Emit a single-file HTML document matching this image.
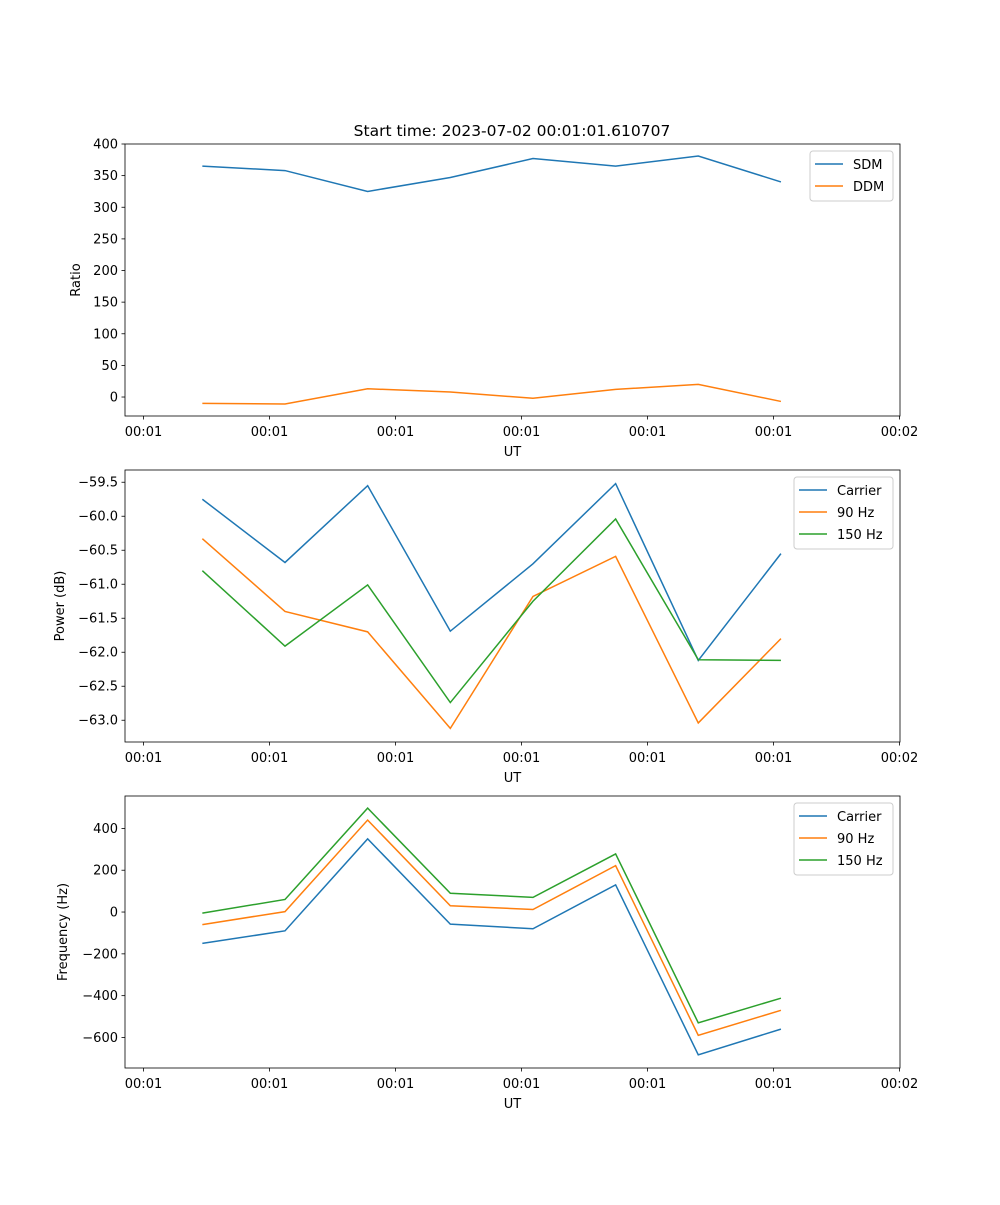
<!DOCTYPE html>
<html><head><meta charset="utf-8">
<style>
body{margin:0;background:#fff;font-family:"Liberation Sans","DejaVu Sans",sans-serif;}
svg text{font-family:"DejaVu Sans","Liberation Sans",sans-serif;font-size:13px;fill:#000;}
</style></head>
<body>
<svg id="fig" width="1000" height="1200" xmlns="http://www.w3.org/2000/svg">
<text x="512" y="136" text-anchor="middle" style="font-size:15.5px">Start time: 2023-07-02 00:01:01.610707</text>
</svg>
<script>
const xTickLabels=["00:01","00:01","00:01","00:01","00:01","00:01","00:02"];
const xTimes=[0.467,1.123,1.779,2.435,3.091,3.747,4.403,5.059];
const sdm=[365,358,325,347,377,365,381,340];
const ddm=[-10,-11,13,8,-2,12,20,-7];
const pCarrier=[-59.75,-60.68,-59.55,-61.69,-60.70,-59.52,-62.12,-60.55];
const p90=[-60.33,-61.40,-61.70,-63.12,-61.18,-60.59,-63.04,-61.80];
const p150=[-60.80,-61.91,-61.01,-62.74,-61.25,-60.04,-62.11,-62.12];
const fCarrier=[-150,-90,350,-58,-80,130,-683,-560];
const f90=[-60,2,440,30,12,222,-590,-470];
const f150=[-5,60,497,90,70,278,-530,-412];
const ratioTicks=[0,50,100,150,200,250,300,350,400];
const powerTicks=[-63.0,-62.5,-62.0,-61.5,-61.0,-60.5,-60.0,-59.5];
const freqTicks=[-600,-400,-200,0,200,400];

const NS="http://www.w3.org/2000/svg";
const svg=document.getElementById('fig');
const L=125,R=900;
const xmin=(L-143.5)/126, xmax=(R-143.5)/126;
function xs(v){return L+(v-xmin)/(xmax-xmin)*(R-L);}
function mk(tag,attrs,parent){const e=document.createElementNS(NS,tag);for(const k in attrs)e.setAttribute(k,attrs[k]);(parent||svg).appendChild(e);return e;}
const C=["#1f77b4","#ff7f0e","#2ca02c"];

function panel(name,top,bot,ymin,ymax,ticks,fmt,ylabel,series,names,leg){
  const g=mk('g',{});
  
  
  const ys=v=>bot-(v-ymin)/(ymax-ymin)*(bot-top);
  series.forEach((s,i)=>{
    const p=mk('polyline',{points:s.map((v,j)=>xs(xTimes[j])+','+ys(v)).join(' '),fill:'none',stroke:C[i],'stroke-width':1.5},g);
    
    
  });
  const fr=mk('rect',{x:L,y:top,width:R-L,height:bot-top,fill:'none',stroke:'#000','stroke-width':0.8},g);
  
  
  ticks.forEach(t=>{
    const y=ys(t);
    mk('line',{x1:L-3.5,x2:L,y1:y,y2:y,stroke:'#000','stroke-width':0.8},g);
    const tx=mk('text',{x:L-7,y:y+4.5,'text-anchor':'end'},g);tx.textContent=fmt(t);
    
    
  });
  xTickLabels.forEach((lab,i)=>{
    const x=xs(i);
    mk('line',{x1:x,x2:x,y1:bot,y2:bot+3.5,stroke:'#000','stroke-width':0.8},g);
    const tx=mk('text',{x:x,y:bot+20,'text-anchor':'middle'},g);tx.textContent=lab;
    
    
  });
  const xl=mk('text',{x:(L+R)/2,y:bot+40,'text-anchor':'middle'},g);xl.textContent='UT';
  
  
  const yc=(top+bot)/2;
  const yl=mk('text',{x:0,y:0,'text-anchor':'middle',transform:`translate(${leg.ylx},${yc}) rotate(-90)`},g);yl.textContent=ylabel;
  
  
  const lg=mk('g',{},g);
  
  
  const h=names.length*22+6;
  mk('rect',{x:leg.x,y:top+7,width:R-7-leg.x,height:h,fill:'#fff',stroke:'#ccc',rx:3},lg);
  names.forEach((n,i)=>{
    const y=top+20+i*22;
    mk('line',{x1:leg.x+5,x2:leg.x+33,y1:y,y2:y,stroke:C[i],'stroke-width':1.5},lg);
    const t=mk('text',{x:leg.x+43,y:y+5},lg);t.textContent=n;
    
    
  });
}
panel('ratio-panel',144,416,-30,400,ratioTicks,v=>String(v),'Ratio',[sdm,ddm],['SDM','DDM'],{x:810,ylx:80});
panel('power-panel',470,742,-63.32,-59.32,powerTicks,v=>(v<0?'\u2212':'')+Math.abs(v).toFixed(1),'Power (dB)',[pCarrier,p90,p150],['Carrier','90 Hz','150 Hz'],{x:794,ylx:64});
panel('frequency-panel',796,1068,-746,555,freqTicks,v=>(v<0?'\u2212':'')+Math.abs(v),'Frequency (Hz)',[fCarrier,f90,f150],['Carrier','90 Hz','150 Hz'],{x:794,ylx:67});
</script>
</body></html>
